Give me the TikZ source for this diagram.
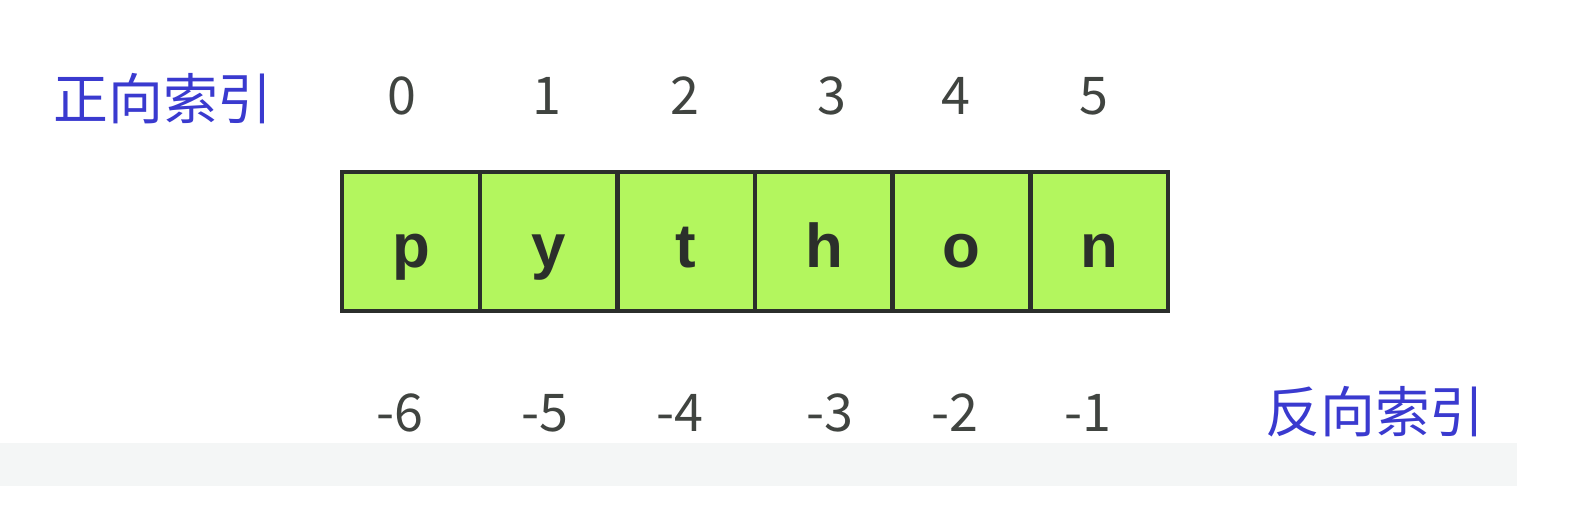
\documentclass[tikz,border=0pt]{standalone}
\usepackage{fontspec}
\newfontfamily\cjk{Noto Sans CJK SC}
\newfontfamily\lett{Liberation Sans}
\usetikzlibrary{positioning}
\definecolor{cellgreen}{HTML}{B3F65E}
\definecolor{idxblue}{HTML}{3A3ACF}
\definecolor{bandgray}{HTML}{F4F6F6}
\definecolor{ink}{HTML}{2B2F2B}
\tikzset{
  cell/.style={draw=ink,line width=3.2pt,fill=cellgreen,outer sep=0pt,
    minimum width=3.44cm,minimum height=3.47cm,text height=37pt,text depth=0pt,
    text=ink,font=\lett\bfseries\fontsize{44}{44}\selectfont},
  num/.style={text=ink!90,inner sep=0pt,font=\cjk\fontsize{37}{37}\selectfont},
  side/.style={text=idxblue,inner sep=0pt,font=\cjk\fontsize{39}{39}\selectfont}
}

\begin{document}
\begin{tikzpicture}[x=0.025cm,y=-0.025cm]
\useasboundingbox (0,0) rectangle (1586,506);
\fill[bandgray] (0,443) rectangle (1517,486);
% the string
\node[cell] (c0) at (411,241.5){p};
\node[cell,right=0pt of c0] (c1){y};
\node[cell,right=0pt of c1] (c2){t};
\node[cell,right=0pt of c2] (c3){h};
\node[cell,right=0pt of c3] (c4){o};
\node[cell,right=0pt of c4] (c5){n};
% forward indices
\node[side] (fwd) at (163,99){正向索引};
\node[num] (p0) at (402,96){0};
\node[num] (p1) at (547,96){1};
\node[num] (p2) at (685,96){2};
\node[num] (p3) at (832,96){3};
\node[num] (p4) at (956,96){4};
\node[num] (p5) at (1094,96){5};
% backward indices
\node[num] (m6) at (400,413){-6};
\node[num] (m5) at (545,413){-5};
\node[num] (m4) at (680,413){-4};
\node[num] (m3) at (830,413){-3};
\node[num] (m2) at (955,413){-2};
\node[num] (m1) at (1088,413){-1};
\node[side] (bwd) at (1375,412){反向索引};
\end{tikzpicture}
\end{document}
